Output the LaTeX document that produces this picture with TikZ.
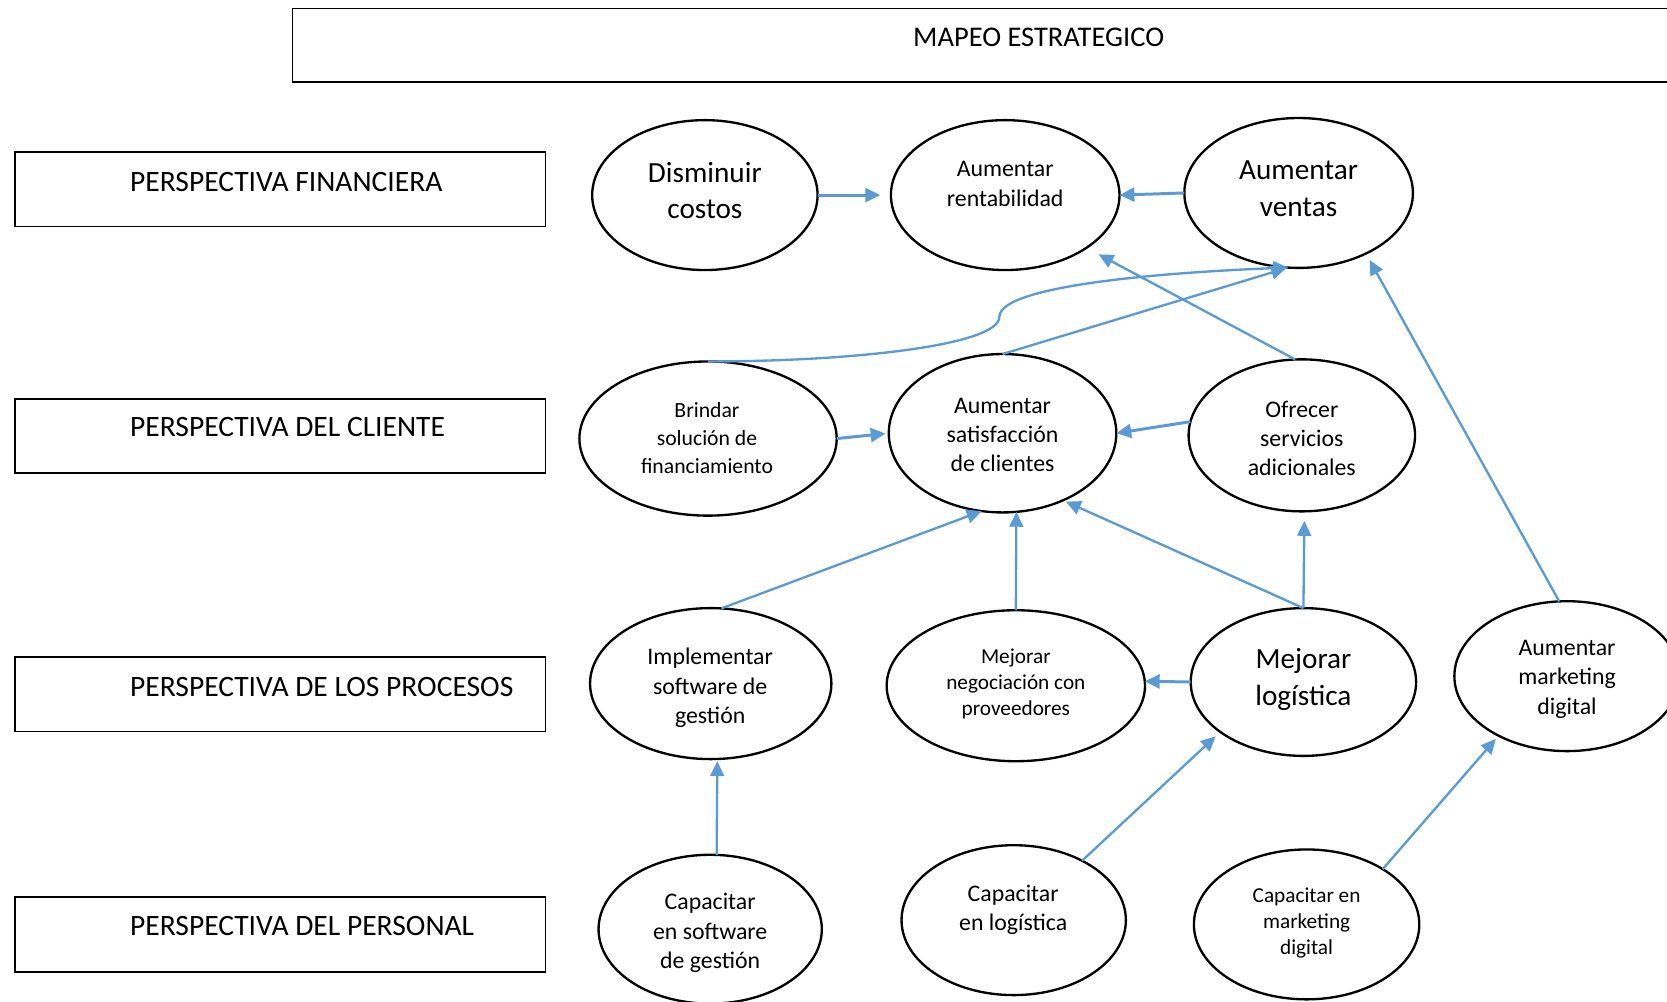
\documentclass[tikz,border=0pt]{standalone}
\usepackage{fontspec}
\setmainfont{Carlito}
\usetikzlibrary{shapes.geometric,arrows.meta}
\definecolor{conn}{HTML}{5B9BD5}
\begin{document}
\begin{tikzpicture}[x=0.5pt,y=-0.5pt,
 el/.style={draw=black,line width=1.1pt,ellipse,inner sep=0pt,outer sep=0pt},
 box/.style={draw=black,line width=0.8pt,rectangle,inner sep=0pt,outer sep=0pt},
 big/.style={align=center,font=\fontsize{13.75}{17}\selectfont,inner sep=0pt},
 mid/.style={align=center,font=\fontsize{11.2}{13.75}\selectfont,inner sep=0pt},
 sml/.style={align=center,font=\fontsize{10}{12.25}\selectfont,inner sep=0pt},
 lab/.style={anchor=west,font=\fontsize{13.9}{17}\selectfont,inner sep=0pt},
 arr/.style={draw=conn,line width=1.1pt,-{Triangle[length=7pt,width=6.5pt]}},
 thick arr/.style={arr,line width=1.4pt}]
\clip (0,0) rectangle (1568,942);
\fill[white] (0,0) rectangle (1568,942);

% boxes
\node[box,minimum width=652.5pt,minimum height=34.5pt] (title) at (927.5,42.5) {};
\node[font=\fontsize{13.4}{16}\selectfont,inner sep=0pt] (titletxt) at (977,35) {MAPEO ESTRATEGICO};
\node[box,minimum width=249.5pt,minimum height=35pt] (bf) at (263.5,178) {};
\node[box,minimum width=249.5pt,minimum height=35pt] (bc) at (263.5,410) {};
\node[box,minimum width=249.5pt,minimum height=35pt] (bp) at (263.5,653) {};
\node[box,minimum width=249.5pt,minimum height=35pt] (bpe) at (263.5,879) {};
\node[lab] (lf) at (122,171) {PERSPECTIVA FINANCIERA};
\node[lab] (lc) at (122,402) {PERSPECTIVA DEL CLIENTE};
\node[lab] (lp) at (122,646) {PERSPECTIVA DE LOS PROCESOS};
\node[lab] (lpe) at (122,871) {PERSPECTIVA DEL PERSONAL};

% ellipses
\node[el,minimum width=106pt,minimum height=70.5pt] (dc) at (663,183.5) {};
\node[el,minimum width=107.5pt,minimum height=70.5pt] (ar) at (945.5,183.5) {};
\node[el,minimum width=107.5pt,minimum height=70.5pt] (av) at (1221.5,181.5) {};
\node[el,minimum width=121pt,minimum height=72.5pt] (bs) at (666,412.5) {};
\node[el,minimum width=107pt,minimum height=74.5pt] (sc) at (943,407.5) {};
\node[el,minimum width=106.5pt,minimum height=71.5pt] (os) at (1224.5,409.5) {};
\node[el,minimum width=113.5pt,minimum height=71pt] (ims) at (668.5,643) {};
\node[el,minimum width=121.5pt,minimum height=71pt] (mn) at (955.5,645) {};
\node[el,minimum width=106pt,minimum height=69.5pt] (ml) at (1226,641.5) {};
\node[el,minimum width=106pt,minimum height=70.5pt] (amd) at (1474,636) {};
\node[el,minimum width=105pt,minimum height=70pt] (cs) at (668,874) {};
\node[el,minimum width=105.5pt,minimum height=70.5pt] (cl) at (953.5,865.5) {};
\node[el,minimum width=106pt,minimum height=70.5pt] (cmd) at (1229,869.5) {};

% texts
\node[big] (tdc) at (663,179) {Disminuir\\costos};
\node[mid] (tar) at (945.5,173) {Aumentar\\rentabilidad};
\node[big] (tav) at (1221.5,177.5) {Aumentar\\ventas};
\node[align=center,font=\fontsize{10.2}{13}\selectfont,inner sep=0pt] (tbs) at (665,412) {Brindar\\solución de\\financiamiento};
\node[mid] (tsc) at (943,409) {Aumentar\\satisfacción\\de clientes};
\node[mid] (tos) at (1224.5,412.5) {Ofrecer\\servicios\\adicionales};
\node[mid] (tims) at (668,647) {Implementar\\software de\\gestión};
\node[sml] (tmn) at (955.5,643) {Mejorar\\negociación con\\proveedores};
\node[align=center,font=\fontsize{13.75}{17.5}\selectfont,inner sep=0pt] (tml) at (1226,639) {Mejorar\\logística};
\node[mid] (tamd) at (1474,639) {Aumentar\\marketing\\digital};
\node[mid] (tcs) at (668,877.5) {Capacitar\\en software\\de gestión};
\node[mid] (tcl) at (953,856) {Capacitar\\en logística};
\node[sml] (tcmd) at (1229,868) {Capacitar en\\marketing\\digital};

% connectors
\draw[thick arr,shorten >=5pt] (dc.east) -- (ar.west);
\draw[thick arr] (av.west) -- (ar.east);
\draw[arr] (bs.north) .. controls (800,340) and (940,325) .. (940,298)
  .. controls (940,268) and (1100,256) .. (av.-98);
\draw[arr,shorten >=1pt] (sc.north) -- (av.-98);
\draw[arr,shorten >=6.5pt] (os.95) -- (ar.-33);
\draw[arr,shorten >=3.5pt] (amd.96) -- (av.-42);
\draw[thick arr,shorten >=1.5pt] (bs.east) -- (sc.west);
\draw[thick arr] (os.173) -- (sc.east);
\draw[arr] (ims.82) -- (sc.-105);
\draw[arr] (mn.north) -- (sc.-80);
\draw[arr,shorten >=1.5pt] (ml.north) -- (sc.-48);
\draw[arr,shorten >=4.5pt] (ml.north) -- (os.-88);
\draw[thick arr] (ml.west) -- (mn.2);
\draw[arr,shorten >=1pt] (cs.85) -- (ims.-85);
\draw[arr,shorten >=3pt] (cl.41) -- (ml.-149);
\draw[arr,shorten >=2pt] (cmd.36) -- (amd.-139);
\end{tikzpicture}
\end{document}
